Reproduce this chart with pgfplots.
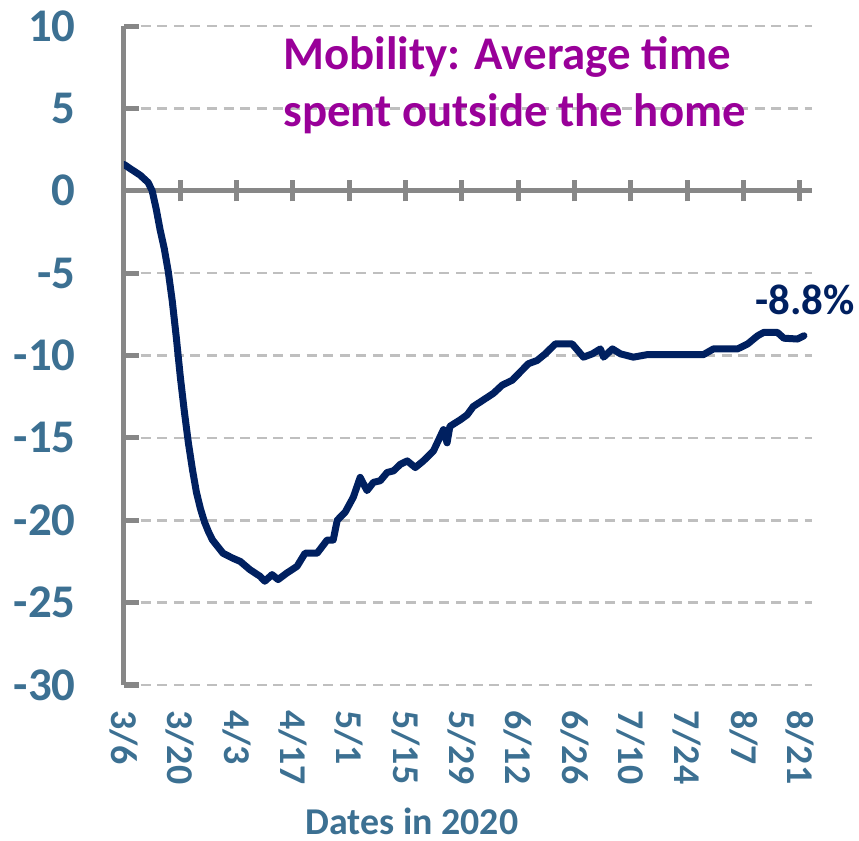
\documentclass[border=0pt]{standalone}
\usepackage{fontspec}
\setmainfont{Carlito}
\usepackage{pgfplots}
\pgfplotsset{compat=1.18}

\definecolor{navyline}{RGB}{0,32,96}
\definecolor{tickblue}{RGB}{60,112,146}
\definecolor{titlepurple}{RGB}{153,0,153}
\definecolor{axisgray}{RGB}{135,135,135}
\definecolor{dashgray}{RGB}{191,191,191}

\begin{document}
\begin{tikzpicture}
\begin{axis}[
  scale only axis, width=344bp, height=329.5bp,
  xmin=0, xmax=171, ymin=-30, ymax=10,
  axis x line=bottom, axis y line=left,
  x axis line style={draw=none},
  y axis line style={-, draw=axisgray, line width=2.5bp},
  xtick={0,14,...,168},
  xticklabels={3/6,3/20,4/3,4/17,5/1,5/15,5/29,6/12,6/26,7/10,7/24,8/7,8/21},
  x tick style={draw=none},
  x tick label style={rotate=-90, anchor=west, inner sep=0pt,
    font=\bfseries\fontsize{19}{22}\selectfont, text=tickblue},
  xticklabel shift=12.5bp,
  ytick={-30,-25,...,10},
  yticklabels={-30,-25,-20,-15,-10,-5,0,5,10},
  y tick style={axisgray, line width=2.5bp},
  y tick label style={anchor=east, inner sep=0pt, xshift=-24bp,
    font=\bfseries\fontsize{23.5}{28}\selectfont, text=tickblue},
  major tick length=7.5bp, tick align=inside,
  ymajorgrids,
  grid style={dashgray, line width=1.35bp, dash pattern=on 5bp off 3.3bp},
]
% zero line with crossing ticks, under the data
\draw[axisgray, line width=2.5bp] (axis cs:0,0) -- (axis cs:171,0);
\pgfplotsinvokeforeach{14,28,42,56,70,84,98,112,126,140,154,168}{
  \draw[axisgray, line width=2.5bp] ([yshift=-5.25bp]axis cs:#1,0) -- ([yshift=5.25bp]axis cs:#1,0);
}
\addplot[navyline, line width=3.5bp, line join=round, line cap=round] coordinates {
  (0,1.6)(1.5,1.35)(4,0.95)(6,0.5)(7,0)(8,-1.1)(9,-2.4)(10,-3.5)(11,-4.9)
  (12,-6.7)(13,-8.9)(14,-11.3)(15,-13.4)(16,-15.3)(17,-16.9)(18,-18.3)
  (19,-19.3)(20,-20.1)(21,-20.7)(22,-21.2)(24.6,-22.0)(27,-22.3)(28.9,-22.5)
  (31.3,-23.0)(33.8,-23.4)(35,-23.7)(36.8,-23.3)(38.3,-23.6)(40.5,-23.2)
  (43,-22.8)(45,-22.0)(48,-22.0)(50.5,-21.2)(52,-21.2)(53,-20.0)(55,-19.5)
  (57,-18.6)(58.7,-17.4)(60.4,-18.2)(62,-17.7)(63.7,-17.6)(65.4,-17.1)
  (67,-17.0)(68.7,-16.6)(70.4,-16.4)(72.4,-16.8)(74.4,-16.4)(76.9,-15.8)
  (79.4,-14.5)(80.3,-15.3)(81,-14.3)(83.6,-13.9)(85.3,-13.6)(86.8,-13.1)
  (89.3,-12.7)(91.8,-12.3)(94,-11.8)(96.5,-11.5)(98.5,-11.0)(100.5,-10.5)
  (102.7,-10.3)(104.7,-9.9)(107.2,-9.3)(111.4,-9.3)(114.2,-10.1)(116.4,-9.9)
  (118.4,-9.6)(119.2,-10.1)(121.4,-9.6)(123.4,-9.9)(126.6,-10.1)(130,-9.95)
  (144,-9.95)(146.5,-9.6)(152.5,-9.6)(155,-9.3)(157.5,-8.8)(159,-8.6)
  (162.4,-8.6)(164,-8.95)(167.4,-9.0)(169,-8.8)
};
\end{axis}
% title, end label, axis title
\node[anchor=base west, inner sep=0pt, text=titlepurple,
  font=\bfseries\fontsize{23.5}{28}\selectfont] at (79.5bp,307.5bp) {Mobility: Average time};
\node[anchor=base west, inner sep=0pt, text=titlepurple,
  font=\bfseries\fontsize{23.5}{28}\selectfont] at (79.5bp,279bp) {spent outside the home};
\node[anchor=base east, inner sep=0pt, text=navyline,
  font=\bfseries\fontsize{21.5}{26}\selectfont] at (365.5bp,185bp) {-8.8\%};
\node[anchor=base, inner sep=0pt, text=tickblue,
  font=\bfseries\fontsize{19}{22}\selectfont] at (144bp,-74.5bp) {Dates in 2020};
\pgfresetboundingbox
\path[use as bounding box] (-62bp,-78bp) rectangle (367.5bp,342.5bp);
\end{tikzpicture}
\end{document}
